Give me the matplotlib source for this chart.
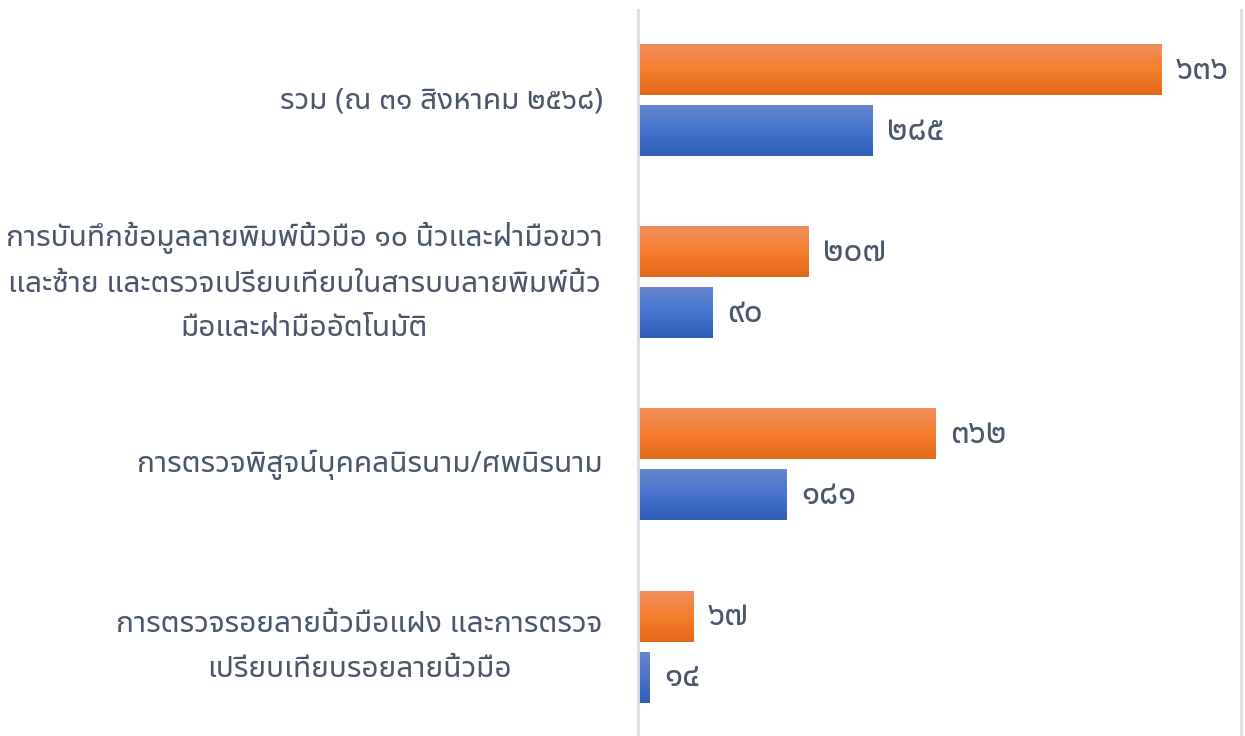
import numpy as np
import matplotlib
matplotlib.use("Agg")
import matplotlib.pyplot as plt
from matplotlib.colors import LinearSegmentedColormap

# data
categories = [
    "รวม (ณ ๓๑ สิงหาคม ๒๕๖๘)",
    "การบันทึกข้อมูลลายพิมพ์นิ้วมือ ๑๐ นิ้วและฝ่ามือขวา\nและซ้าย และตรวจเปรียบเทียบในสารบบลายพิมพ์นิ้ว\nมือและฝ่ามืออัตโนมัติ",
    "การตรวจพิสูจน์บุคคลนิรนาม/ศพนิรนาม",
    "การตรวจรอยลายนิ้วมือแฝง และการตรวจ\nเปรียบเทียบรอยลายนิ้วมือ",
]
orange_vals = [636, 207, 362, 67]
blue_vals = [285, 90, 181, 14]
orange_labels = ["๖๓๖", "๒๐๗", "๓๖๒", "๖๗"]
blue_labels = ["๒๘๕", "๙๐", "๑๘๑", "๑๔"]

plt.rcParams["font.family"] = ["Noto Sans Thai UI", "Noto Sans Thai", "DejaVu Sans"]
plt.rcParams["font.weight"] = "light"

txt_color = "#4A566B"

fig = plt.figure(figsize=(12.45, 7.36), dpi=100)
ax = fig.add_axes([638 / 1245, 0, 1 - 638 / 1245, 1 - 10 / 736])

y = np.arange(len(categories))
h = 0.275
off = 0.1676

orange_cmap = LinearSegmentedColormap.from_list("o", ["#F08E5E", "#F57F2C", "#E3691A"])
blue_cmap = LinearSegmentedColormap.from_list("b", ["#6686D0", "#4673CC", "#2F5EB8"])
grad = np.linspace(0, 1, 64).reshape(-1, 1)

# bars with a vertical gradient
for yi, v in zip(y - off, orange_vals):
    ax.imshow(grad, cmap=orange_cmap, aspect="auto",
              extent=(0, v, yi + h / 2, yi - h / 2), origin="upper", zorder=2)
for yi, v in zip(y + off, blue_vals):
    ax.imshow(grad, cmap=blue_cmap, aspect="auto",
              extent=(0, v, yi + h / 2, yi - h / 2), origin="upper", zorder=2)

for yi, v, s in zip(y - off, orange_vals, orange_labels):
    ax.text(v + 18, yi, s, va="center", ha="left", fontsize=24, color=txt_color)
for yi, v, s in zip(y + off, blue_vals, blue_labels):
    ax.text(v + 18, yi, s, va="center", ha="left", fontsize=24, color=txt_color)

for yi, c in zip(y, categories):
    ax.text(-43, yi, c, ha="right", va="center", multialignment="center",
            fontsize=21.5, color=txt_color, linespacing=1.7, clip_on=False)

ax.set_xlim(0, 738)
ax.set_ylim(3.488, -0.497)
for s in ["top", "right", "bottom"]:
    ax.spines[s].set_visible(False)
ax.spines["left"].set_color("#D9DEE6")
ax.spines["left"].set_linewidth(2)
ax.set_xticks([])
ax.set_yticks([])

# light frame edge on the right
fig.add_artist(plt.Line2D([1241 / 1245] * 2, [0, 1 - 10 / 736], color="#D9DEE6", lw=2))

fig.savefig("out.png", dpi=100)
